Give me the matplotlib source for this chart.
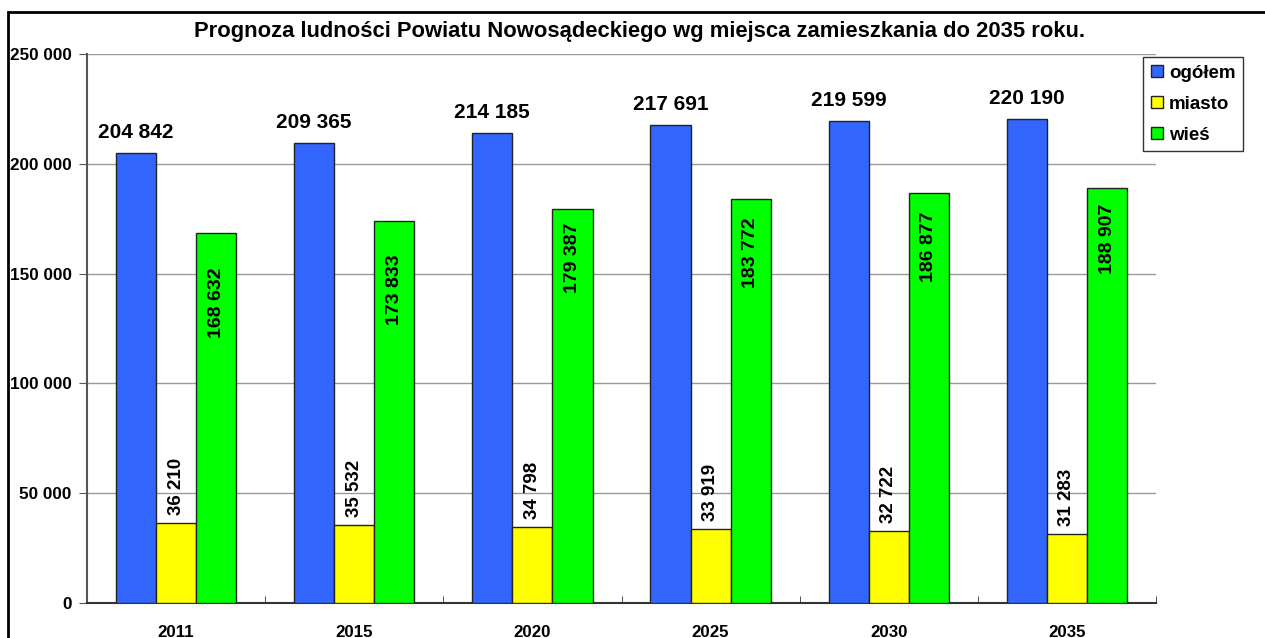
import matplotlib
matplotlib.use("Agg")
import matplotlib.pyplot as plt
from matplotlib.patches import Rectangle
import numpy as np

plt.rcParams['font.family'] = ['Liberation Sans', 'DejaVu Sans']
plt.rcParams['font.weight'] = 'bold'

years = ['2011', '2015', '2020', '2025', '2030', '2035']
ogolem = [204842, 209365, 214185, 217691, 219599, 220190]
miasto = [36210, 35532, 34798, 33919, 32722, 31283]
wies = [168632, 173833, 179387, 183772, 186877, 188907]
series_names = ['ogółem', 'miasto', 'wieś']
colors = ['#3366FF', '#FFFF00', '#00FF00']
title = 'Prognoza ludności Powiatu Nowosądeckiego wg miejsca zamieszkania do 2035 roku.'
# label placement (pixel gap below bar top for the 'wieś' labels)
wies_label_gap_px = [35, 33, 13, 18, 19, 15]

def fmt(v):
    return f'{v:,}'.replace(',', ' ')

W, H = 1265, 638
fig = plt.figure(figsize=(W/100, H/100), dpi=100)
fig.patches.append(Rectangle((8/W, -0.05), 1.2, (638-12)/H + 0.05, transform=fig.transFigure,
                             fill=False, edgecolor='black', linewidth=2))
ax = fig.add_axes([87/W, 35/H, (1156-87)/W, (603-54)/H])

x = np.arange(len(years))
bw = 0.225
data = [ogolem, miasto, wies]
bars = []
for i, (vals, c, name) in enumerate(zip(data, colors, series_names)):
    b = ax.bar(x + (i-1)*bw, vals, bw, color=c, edgecolor='#222222', linewidth=1, label=name, zorder=3)
    bars.append(b)

px = 72/100  # points per pixel
for rect, v in zip(bars[0], ogolem):
    ax.annotate(fmt(v), (rect.get_x()+rect.get_width()/2, v), xytext=(0, 11*px), textcoords='offset points',
                ha='center', va='bottom', fontsize=15, fontweight='bold', zorder=5)
for rect, v in zip(bars[1], miasto):
    ax.annotate(fmt(v), (rect.get_x()+rect.get_width()/2, v), xytext=(0, 8*px), textcoords='offset points',
                ha='center', va='bottom', rotation=90, fontsize=13.5, fontweight='bold', zorder=5)
for rect, v, g in zip(bars[2], wies, wies_label_gap_px):
    ax.annotate(fmt(v), (rect.get_x()+rect.get_width()/2, v), xytext=(0, -g*px), textcoords='offset points',
                ha='center', va='top', rotation=90, fontsize=14, fontweight='bold', zorder=5)

ax.set_xlim(-0.5, len(years)-0.5)
ax.set_ylim(0, 250000)
ax.set_yticks(np.arange(0, 250001, 50000))
ax.set_yticklabels([fmt(v) for v in range(0, 250001, 50000)], fontsize=12.3, fontweight='bold')
ax.set_xticks(x)
ax.set_xticklabels(years, fontsize=12.2, fontweight='bold')
ax.set_xticks(np.arange(-0.5, len(years), 1), minor=True)
ax.tick_params(axis='x', which='major', length=0, pad=16)
ax.tick_params(axis='x', which='minor', length=5, direction='in', color='#333333')
ax.tick_params(axis='y', length=6, direction='out', color='#555555', pad=5)
ax.yaxis.grid(True, color='#999999', linewidth=1, zorder=0)
ax.set_axisbelow(True)
for s in ['top', 'right']:
    ax.spines[s].set_visible(False)
ax.spines['left'].set_color('#555555')
ax.spines['bottom'].set_color('#333333')
ax.spines['left'].set_linewidth(1.5)
ax.spines['bottom'].set_linewidth(1.5)

fig.text(640/W, (638-32)/H, title, ha='center', va='center', fontsize=15.8, fontweight='bold')

leg = ax.legend(loc='upper left', bbox_to_anchor=(1143/W, (638-57)/H), bbox_transform=fig.transFigure,
                frameon=True, fancybox=False, edgecolor='black', fontsize=13.5,
                handlelength=0.65, handleheight=0.65, handletextpad=0.35, borderpad=0.4,
                labelspacing=0.75, borderaxespad=0)
leg.get_frame().set_linewidth(1)

fig.savefig('out.png', dpi=100, facecolor='white')
